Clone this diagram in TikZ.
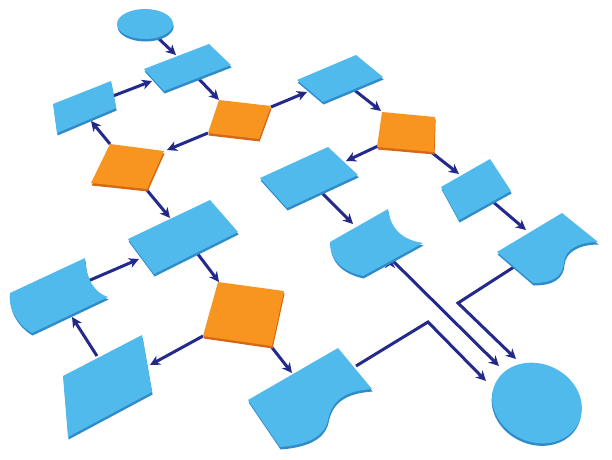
\documentclass[tikz,border=0pt]{standalone}
\usepackage{xcolor}
\usepackage{tikz}
\usetikzlibrary{arrows.meta}

\definecolor{boxblue}{RGB}{80,186,237}
\definecolor{boxblueside}{RGB}{48,140,200}
\definecolor{decorange}{RGB}{248,148,32}
\definecolor{decorangeside}{RGB}{212,104,22}
\definecolor{flownavy}{RGB}{36,42,140}

% a flat slab: darker side first, then the top face
\newcommand{\slab}[2]{\fill[#1side] #2; \fill[#1] #2;}

\tikzset{
  proc/.style={fill=boxblue},
  procside/.style={fill=boxblueside, xshift=0.6pt, yshift=-2.5pt},
  dec/.style={fill=decorange},
  decside/.style={fill=decorangeside, xshift=0.6pt, yshift=-2.5pt},
  flow/.style={draw=flownavy, line width=3pt, miter limit=4,
    -{Stealth[length=10pt,width=10pt,inset=3pt]}}
}

\begin{document}
\begin{tikzpicture}[x=1pt,y=-1pt]
\fill[white] (0,0) rectangle (612,459);
\useasboundingbox (0,0) rectangle (612,459);

% connector ends
\coordinate (startOut) at (157,37);  \coordinate (r1In)  at (176,55);
\coordinate (r1Out)    at (197,77);  \coordinate (d1In)  at (219,100);
\coordinate (d1Left)   at (208,133); \coordinate (d2In)  at (167,150);
\coordinate (r2Out)    at (113,96);  \coordinate (r1Left) at (152,81);
\coordinate (d2Up)     at (110,144); \coordinate (r2In)  at (91,121);
\coordinate (d2Down)   at (146,189); \coordinate (r6In)  at (170,218);
\coordinate (d1Right)  at (271,107); \coordinate (r3In)  at (307,92);
\coordinate (r3Out)    at (353,89);  \coordinate (d3In)  at (381,111);
\coordinate (d3Left)   at (378,146); \coordinate (r4In)  at (346,161);
\coordinate (d3Right)  at (431,152); \coordinate (r5In)  at (459,174);
\coordinate (r5Out)    at (492,201); \coordinate (rdocIn) at (526,230);
\coordinate (r4Out)    at (322,193); \coordinate (cdocIn) at (353,224);
\coordinate (r6Out)    at (197,253); \coordinate (d4In)  at (219,282);
\coordinate (d4Left)   at (203,336); \coordinate (paraIn) at (150,365);
\coordinate (d4Right)  at (270,345); \coordinate (bdocIn) at (292,373);
\coordinate (paraOut)  at (97,356);  \coordinate (ldocIn) at (72,317);
\coordinate (ldocOut)  at (88,281);  \coordinate (r6Left) at (139,259);
\coordinate (cdocOut)  at (390,258); \coordinate (endA)  at (499,366);
\coordinate (rdocOut)  at (517,265); \coordinate (bendB) at (458,303);
\coordinate (endB)     at (516,359);
\coordinate (bdocOut)  at (356,366); \coordinate (bendC) at (428,322);
\coordinate (endC)     at (486,381);

\path[flow]
    (startOut) edge (r1In)
    (r1Out)    edge (d1In)
    (d1Left)   edge (d2In)
    (r2Out)    edge (r1Left)
    (d2Up)     edge (r2In)
    (d2Down)   edge (r6In)
    (d1Right)  edge (r3In)
    (r3Out)    edge (d3In)
    (d3Left)   edge (r4In)
    (d3Right)  edge (r5In)
    (r5Out)    edge (rdocIn)
    (r4Out)    edge (cdocIn)
    (r6Out)    edge (d4In)
    (d4Left)   edge (paraIn)
    (d4Right)  edge (bdocIn)
    (paraOut)  edge (ldocIn)
    (ldocOut)  edge (r6Left)
    (cdocOut)  edge (endA);
\draw[flow] (rdocOut) -- (bendB) -- (endB);
\draw[flow] (bdocOut) -- (bendC) -- (endC);

% start and end
\slab{proc}{(145,24) ellipse [x radius=28, y radius=15]}
\begin{scope}[shift={(537,403)}, rotate=-25]
\slab{proc}{(0,0) ellipse [x radius=46, y radius=39]}
\end{scope}

% process boxes
\slab{proc}{(144,69) -- (209,44) -- (231,65) -- (164,91) -- cycle}
\slab{proc}{(53,104) -- (111,81) -- (116,108) -- (57,133) -- cycle}
\slab{proc}{(297,80) -- (356,55) -- (383,77) -- (323,102) -- cycle}
\slab{proc}{(260,178) -- (328,147) -- (358,175) -- (287,208) -- cycle}
\slab{proc}{(441,187) -- (490,159) -- (511,191) -- (459,220) -- cycle}
\slab{proc}{(128,239) -- (210,200) -- (238,232) -- (154,274) -- cycle}
\slab{proc}{(63,376) -- (142,335) -- (152,392) -- (68,437) -- cycle}

% documents
\slab{proc}{(10,293) -- (85,258) .. controls (86,280) and (95,293) .. (108,297)
  -- (32,333) .. controls (15,323) and (8,305) .. (10,293) -- cycle}
\slab{proc}{(330,242) -- (388,209) .. controls (390,228) and (402,240) .. (423,243)
  -- (363,276) .. controls (345,272) and (330,262) .. (330,242) -- cycle}
\slab{proc}{(497,252) -- (562,213) -- (598,242) .. controls (578,242) and (565,250) .. (564,262)
  .. controls (563,277) and (552,283) .. (533,283) -- cycle}
\slab{proc}{(248,400) -- (338,348) -- (372,389) .. controls (345,391) and (332,400) .. (328,420)
  .. controls (324,438) and (305,445) .. (280,447) -- cycle}

% decisions
\slab{dec}{(219,100) -- (271,106) -- (259,139) -- (208,133) -- cycle}
\slab{dec}{(110,144) -- (164,151) -- (147,189) -- (91,183) -- cycle}
\slab{dec}{(382,112) -- (435,117) -- (434,152) -- (377,147) -- cycle}
\slab{dec}{(218,282) -- (284,291) -- (272,346) -- (203,336) -- cycle}
\end{tikzpicture}
\end{document}
